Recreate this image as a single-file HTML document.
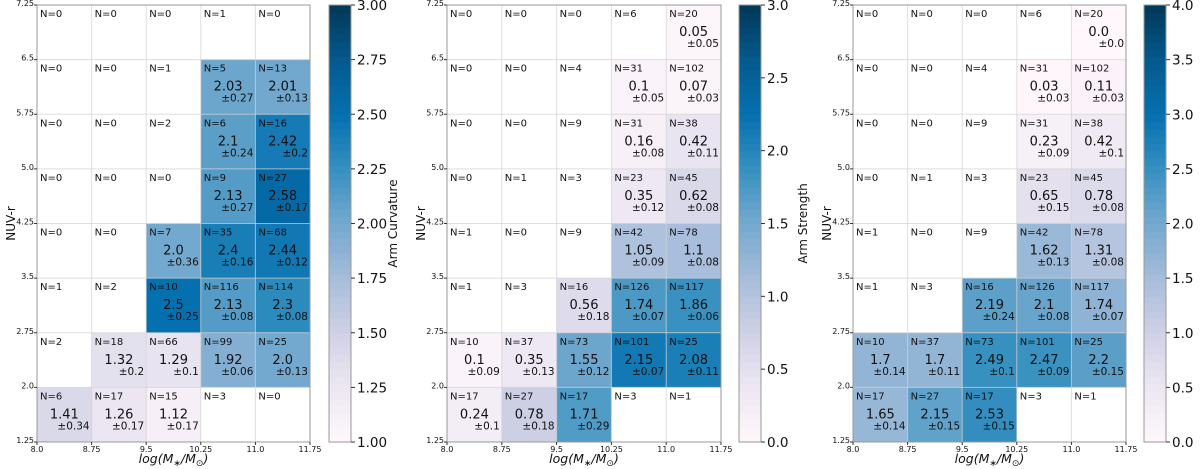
<!DOCTYPE html>
<html><head><meta charset="utf-8"><style>
html,body{margin:0;padding:0;background:#fff;}
svg{display:block;font-family:"DejaVu Sans","Liberation Sans",sans-serif;}
</style></head><body>
<svg id="fig" width="1200" height="469" viewBox="0 0 1200 469" xmlns="http://www.w3.org/2000/svg"></svg>
<script>
const xTicks = ["8.0","8.75","9.5","10.25","11.0","11.75"];
const yTicks = ["1.25","2.0","2.75","3.5","4.25","5.0","5.75","6.5","7.25"];
const countsA = [[6,17,15,3,0],[2,18,66,99,25],[1,2,10,116,114],[0,0,7,35,68],[0,0,0,9,27],[0,0,2,6,16],[0,0,1,5,13],[0,0,0,1,0]];
const countsB = [[17,27,17,3,1],[10,37,73,101,25],[1,3,16,126,117],[1,0,9,42,78],[0,1,3,23,45],[0,0,9,31,38],[0,0,4,31,102],[0,0,0,6,20]];
const N = null;
const curvVal = [[1.41,1.26,1.12,N,N],[N,1.32,1.29,1.92,2.0],[N,N,2.5,2.13,2.3],[N,N,2.0,2.4,2.44],[N,N,N,2.13,2.58],[N,N,N,2.1,2.42],[N,N,N,2.03,2.01],[N,N,N,N,N]];
const curvErr = [[0.34,0.17,0.17,N,N],[N,0.2,0.1,0.06,0.13],[N,N,0.25,0.08,0.08],[N,N,0.36,0.16,0.12],[N,N,N,0.27,0.17],[N,N,N,0.24,0.2],[N,N,N,0.27,0.13],[N,N,N,N,N]];
const strVal = [[0.24,0.78,1.71,N,N],[0.1,0.35,1.55,2.15,2.08],[N,N,0.56,1.74,1.86],[N,N,N,1.05,1.1],[N,N,N,0.35,0.62],[N,N,N,0.16,0.42],[N,N,N,0.1,0.07],[N,N,N,N,0.05]];
const strErr = [[0.1,0.18,0.29,N,N],[0.09,0.13,0.12,0.07,0.11],[N,N,0.18,0.07,0.06],[N,N,N,0.09,0.08],[N,N,N,0.12,0.08],[N,N,N,0.08,0.11],[N,N,N,0.05,0.03],[N,N,N,N,0.05]];
const flocVal = [[1.65,2.15,2.53,N,N],[1.7,1.7,2.49,2.47,2.2],[N,N,2.19,2.1,1.74],[N,N,N,1.62,1.31],[N,N,N,0.65,0.78],[N,N,N,0.23,0.42],[N,N,N,0.03,0.11],[N,N,N,N,0.0]];
const flocErr = [[0.14,0.15,0.15,N,N],[0.14,0.11,0.1,0.09,0.15],[N,N,0.24,0.08,0.07],[N,N,N,0.13,0.08],[N,N,N,0.15,0.08],[N,N,N,0.09,0.1],[N,N,N,0.03,0.03],[N,N,N,N,0.0]];
const cbTicksA = ["1.00","1.25","1.50","1.75","2.00","2.25","2.50","2.75","3.00"];
const cbTicksB = ["0.0","0.5","1.0","1.5","2.0","2.5","3.0"];
const cbTicksC = ["0.0","0.5","1.0","1.5","2.0","2.5","3.0","3.5","4.0"];

const pubu = ["#fff7fb","#ece7f2","#d0d1e6","#a6bddb","#74a9cf","#3690c0","#0570b0","#045a8d","#023858"];
function hex(h){return [1,3,5].map(i=>parseInt(h.substr(i,2),16));}
function cmap(t){t=Math.max(0,Math.min(1,t));const p=t*(pubu.length-1);const i=Math.min(Math.floor(p),pubu.length-2);const f=p-i;
 const a=hex(pubu[i]),b=hex(pubu[i+1]);return "rgb("+a.map((v,k)=>Math.round(v+(b[k]-v)*f)).join(",")+")";}
function fmt(v){let s=String(v);if(Number.isInteger(v))s=v.toFixed(1);return s;}

const svgRoot=document.getElementById('fig');
const NS="http://www.w3.org/2000/svg";
function el(tag,attrs,parent,text){const e=document.createElementNS(NS,tag);for(const k in attrs)e.setAttribute(k,attrs[k]);if(text!==undefined)e.textContent=text;(parent||svgRoot).appendChild(e);return e;}

const yTop=5, yBot=442;
const panels=[
 {id:"curvature",x0:37,x1:310,cb:329,vals:curvVal,errs:curvErr,counts:countsA,vmin:1,vmax:3,ticks:cbTicksA,label:"Arm Curvature"},
 {id:"strength",x0:447,x1:721,cb:739,vals:strVal,errs:strErr,counts:countsB,vmin:0,vmax:3,ticks:cbTicksB,label:"Arm Strength"},
 {id:"flocculence",x0:853,x1:1126,cb:1144,vals:flocVal,errs:flocErr,counts:countsB,vmin:0,vmax:4,ticks:cbTicksC,label:"Flocculence"}
];
panels.forEach(P=>{
 const g=el('g',{});
 
 
 const cw=(P.x1-P.x0)/5, rh=(yBot-yTop)/8;
 const xs=c=>P.x0+c*cw, ys=r=>yBot-(r+1)*rh;
 const vs=v=>(v-P.vmin)/(P.vmax-P.vmin);
 for(let r=0;r<8;r++)for(let c=0;c<5;c++){
  const v=P.vals[r][c];
  if(v!==null){
   const rect=el('rect',{x:xs(c),y:ys(r),width:cw,height:rh,fill:cmap(vs(v))},g);
   
   
  }
 }
 for(let i=0;i<=5;i++)el('line',{x1:xs(i),x2:xs(i),y1:yTop,y2:yBot,stroke:"rgba(210,210,210,0.7)","stroke-width":1},g);
 for(let i=0;i<=8;i++)el('line',{x1:P.x0,x2:P.x1,y1:yBot-i*rh,y2:yBot-i*rh,stroke:"rgba(210,210,210,0.7)","stroke-width":1},g);
 for(let r=0;r<8;r++)for(let c=0;c<5;c++){
  const t=el('text',{x:xs(c)+3,y:ys(r)+12,"font-size":10,fill:"#111"},g,"N="+P.counts[r][c]);
  
  
  const v=P.vals[r][c];
  if(v!==null){
   const tv=el('text',{x:xs(c)+cw/2,y:ys(r)+31,"font-size":13,"text-anchor":"middle",fill:"#111"},g,fmt(v));
   
   
   const te=el('text',{x:xs(c)+cw-2,y:ys(r)+42,"font-size":10.5,"text-anchor":"end",fill:"#111"},g,"±"+fmt(P.errs[r][c]));
   
   
  }
 }
 el('rect',{x:P.x0,y:yTop,width:P.x1-P.x0,height:yBot-yTop,fill:"none",stroke:"#999","stroke-width":1},g);
 xTicks.forEach((t,i)=>{el('line',{x1:xs(i),x2:xs(i),y1:yBot,y2:yBot+3,stroke:"#333"},g);
  const tx=el('text',{x:xs(i),y:yBot+10,"font-size":8,"text-anchor":"middle",fill:"#111"},g,t);
  
  });
 yTicks.forEach((t,i)=>{const y=yBot-i*rh;el('line',{x1:P.x0-3,x2:P.x0,y1:y,y2:y,stroke:"#333"},g);
  const ty=el('text',{x:P.x0-3,y:y+1,"font-size":8,"text-anchor":"end",fill:"#111"},g,t);
  
  });
 const xt=el('text',{x:(P.x0+P.x1)/2,y:463,"font-size":12.5,"text-anchor":"middle","font-style":"italic",fill:"#111"},g);
 el('tspan',{},xt,"log(M");
 el('tspan',{"font-size":9,dy:3},xt,"∗");
 el('tspan',{dy:-3},xt,"/M");
 el('tspan',{"font-size":9,dy:3},xt,"⊙");
 el('tspan',{dy:-3},xt,")");
 
 
 const yt=el('text',{x:0,y:0,"font-size":12,"text-anchor":"middle",fill:"#111",transform:"translate("+(P.x0-22)+","+((yTop+yBot)/2)+") rotate(-90)"},g,"NUV-r");
 
 
 const cbw=22, n=60;
 const cbg=el('g',{},g);
 
 
 for(let i=0;i<n;i++){const y0=yBot-(i+1)*(yBot-yTop)/n;
  el('rect',{x:P.cb,y:y0,width:cbw,height:(yBot-yTop)/n+0.6,fill:cmap((i+0.5)/n)},cbg);}
 el('rect',{x:P.cb,y:yTop,width:cbw,height:yBot-yTop,fill:"none",stroke:"#999"},cbg);
 P.ticks.forEach((t,i)=>{const y=yBot-i*(yBot-yTop)/(P.ticks.length-1);
  el('line',{x1:P.cb+cbw,x2:P.cb+cbw+4,y1:y,y2:y,stroke:"#333"},cbg);
  const tl=el('text',{x:P.cb+cbw+6,y:y+5,"font-size":13.5,fill:"#111"},cbg,t);
  
  });
 const cl=el('text',{x:0,y:0,"font-size":12,"text-anchor":"middle",fill:"#111",transform:"translate("+(P.cb+cbw+46)+","+((yTop+yBot)/2)+") rotate(-90)"},cbg,P.label);
 
 
});
</script>
</body></html>
